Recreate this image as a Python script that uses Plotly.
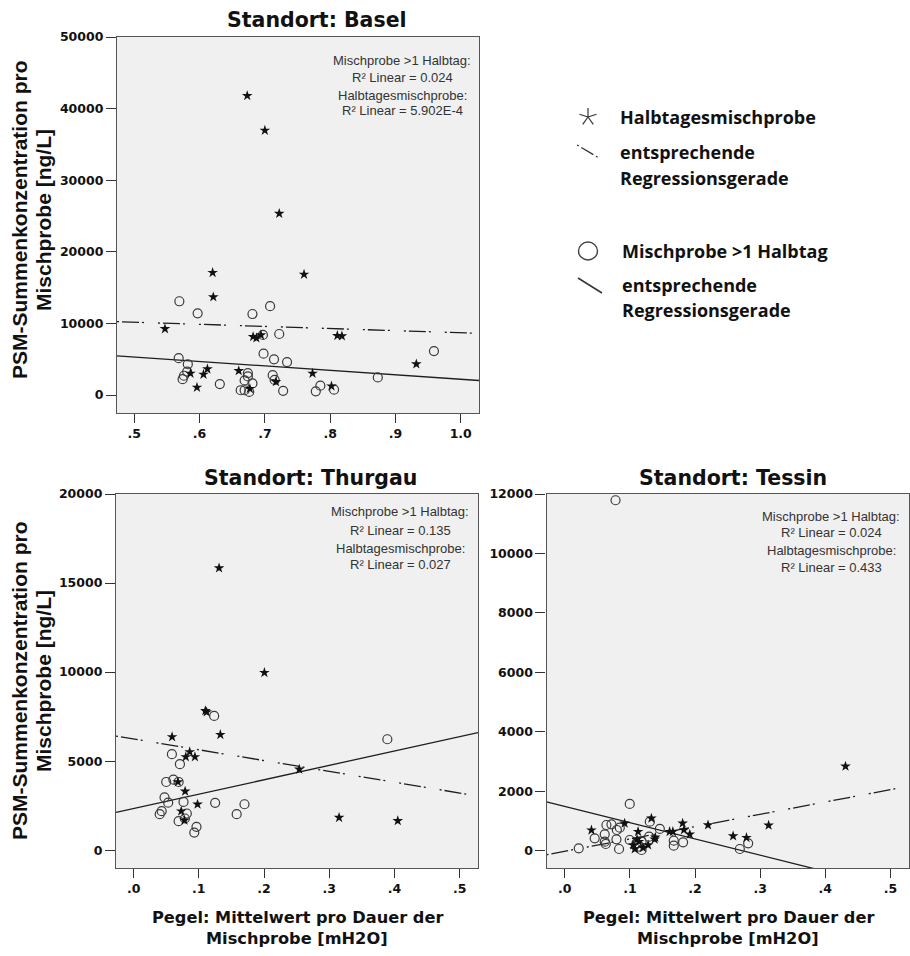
import math
import plotly.graph_objects as go

W, H = 910, 956

# ---------------- data ----------------
# Standort Basel
basel_halbtag_x = [0.673, 0.700, 0.722, 0.620, 0.760, 0.621, 0.547, 0.682, 0.687, 0.694, 0.811,
                   0.818, 0.932, 0.586, 0.612, 0.606, 0.596, 0.660, 0.773, 0.802, 0.717, 0.677]
basel_halbtag_y = [41800, 36950, 25350, 17100, 16850, 13700, 9250, 8150, 7970, 8390, 8290,
                   8250, 4330, 3030, 3630, 2890, 1070, 3400, 3030, 1250, 1860, 900]
basel_misch_x = [0.569, 0.597, 0.681, 0.708, 0.697, 0.722, 0.698, 0.714, 0.734, 0.568, 0.582,
                 0.581, 0.576, 0.574, 0.631, 0.674, 0.674, 0.669, 0.681, 0.663, 0.669, 0.676,
                 0.712, 0.715, 0.728, 0.785, 0.778, 0.806, 0.873, 0.959]
basel_misch_y = [13100, 11420, 11320, 12420, 8400, 8530, 5780, 4990, 4610, 5150, 4310,
                 3290, 2700, 2220, 1540, 3080, 2600, 2050, 1630, 680, 680, 440,
                 2780, 2120, 600, 1320, 530, 750, 2470, 6150]

# Standort Thurgau
thurgau_halbtag_x = [0.131, 0.2005, 0.110, 0.112, 0.133, 0.059, 0.086, 0.080, 0.094, 0.068,
                     0.079, 0.098, 0.073, 0.078, 0.254, 0.315, 0.405]
thurgau_halbtag_y = [15840, 9970, 7830, 7760, 6490, 6360, 5520, 5240, 5240, 3830,
                     3310, 2580, 2190, 1680, 4540, 1830, 1650]
thurgau_misch_x = [0.1235, 0.389, 0.0587, 0.071, 0.050, 0.061, 0.069, 0.0474, 0.053, 0.0765,
                   0.125, 0.170, 0.043, 0.040, 0.0816, 0.158, 0.069, 0.0786, 0.0964, 0.093]
thurgau_misch_y = [7540, 6230, 5390, 4830, 3830, 3960, 3830, 2960, 2670, 2710,
                   2660, 2580, 2190, 2020, 2060, 2020, 1630, 1780, 1310, 990]

# Standort Tessin
tessin_halbtag_x = [0.041, 0.092, 0.133, 0.1126, 0.105, 0.1075, 0.114, 0.128, 0.138, 0.111,
                    0.161, 0.166, 0.181, 0.183, 0.192, 0.220, 0.2585, 0.279, 0.313, 0.431,
                    0.139, 0.120]
tessin_halbtag_y = [690, 922, 1090, 640, 192, 57, 303, 192, 384, 384,
                    640, 640, 922, 697, 552, 865, 495, 438, 853, 2840,
                    449, 100]
tessin_misch_x = [0.078, 0.0998, 0.064, 0.0717, 0.080, 0.0845, 0.0614, 0.046, 0.0614, 0.063,
                  0.0794, 0.0834, 0.0215, 0.0998, 0.110, 0.118, 0.115, 0.118, 0.1306, 0.1295,
                  0.146, 0.1674, 0.1674, 0.1817, 0.2688, 0.2816]
tessin_misch_y = [11790, 1572, 865, 888, 697, 775, 552, 417, 303, 226,
                  384, 57, 81, 360, 249, 303, 135, 24, 976, 471,
                  731, 337, 168, 283, 57, 249]

# fitted regression lines: [intercept, slope]
basel_reg_halbtag = [11645, -2940]
basel_reg_misch = [8440, -6230]
thurgau_reg_halbtag = [6246, -6072]
thurgau_reg_misch = [2336, 8090]
tessin_reg_halbtag = [-20, 4147]
tessin_reg_misch = [1487, -5462]

# R² values printed in each panel: [Mischprobe >1 Halbtag, Halbtagesmischprobe]
basel_r2 = ["0.024", "5.902E-4"]
thurgau_r2 = ["0.135", "0.027"]
tessin_r2 = ["0.024", "0.433"]

# axis ticks
basel_xticks = [0.5, 0.6, 0.7, 0.8, 0.9, 1.0]
basel_xlabels = [".5", ".6", ".7", ".8", ".9", "1.0"]
low_xticks = [0.0, 0.1, 0.2, 0.3, 0.4, 0.5]
low_xlabels = [".0", ".1", ".2", ".3", ".4", ".5"]
basel_yticks = [0, 10000, 20000, 30000, 40000, 50000]
thurgau_yticks = [0, 5000, 10000, 15000, 20000]
tessin_yticks = [0, 2000, 4000, 6000, 8000, 10000, 12000]


# ---------------- helpers ----------------
def px(x):
    return x / W


def py(y):
    return 1 - y / H


INK = "#1e1e1e"
DASHDOT = "2px,3px,17px,3px,2px,14px"
TICKFONT = dict(family="DejaVu Sans", size=12.5, color="#111", weight="bold")

fig = go.Figure()

panels = [
    dict(xa="x", ya="y", hx=basel_halbtag_x, hy=basel_halbtag_y, mx=basel_misch_x, my=basel_misch_y,
         rh=basel_reg_halbtag, rm=basel_reg_misch, xr=[0.4735, 1.028]),
    dict(xa="x2", ya="y2", hx=thurgau_halbtag_x, hy=thurgau_halbtag_y, mx=thurgau_misch_x, my=thurgau_misch_y,
         rh=thurgau_reg_halbtag, rm=thurgau_reg_misch, xr=[-0.027, 0.528]),
    dict(xa="x3", ya="y3", hx=tessin_halbtag_x, hy=tessin_halbtag_y, mx=tessin_misch_x, my=tessin_misch_y,
         rh=tessin_reg_halbtag, rm=tessin_reg_misch, xr=[-0.028, 0.529]),
]

for p in panels:
    x0, x1 = p["xr"]
    fig.add_trace(go.Scatter(
        x=[x0, x1], y=[p["rh"][0] + p["rh"][1] * x0, p["rh"][0] + p["rh"][1] * x1],
        mode="lines", line=dict(color=INK, width=1.3, dash=DASHDOT),
        xaxis=p["xa"], yaxis=p["ya"], showlegend=False, hoverinfo="skip"))
    fig.add_trace(go.Scatter(
        x=[x0, x1], y=[p["rm"][0] + p["rm"][1] * x0, p["rm"][0] + p["rm"][1] * x1],
        mode="lines", line=dict(color=INK, width=1.3),
        xaxis=p["xa"], yaxis=p["ya"], showlegend=False, hoverinfo="skip"))
    fig.add_trace(go.Scatter(
        x=p["mx"], y=p["my"], mode="markers",
        marker=dict(symbol="circle-open", size=9, color="#3a3a3a", line=dict(width=1.2)),
        xaxis=p["xa"], yaxis=p["ya"], showlegend=False))
    fig.add_trace(go.Scatter(
        x=p["hx"], y=p["hy"], mode="markers",
        marker=dict(symbol="star", size=8, color="#111"),
        xaxis=p["xa"], yaxis=p["ya"], showlegend=False))


def xaxis_cfg(domain, rng, vals, text, anchor):
    return dict(domain=domain, range=rng, tickvals=vals, ticktext=text, anchor=anchor,
                ticks="outside", ticklen=9, tickwidth=1.3, tickcolor="#333",
                showline=True, linecolor="#555", linewidth=1.2, mirror=True, automargin=False,
                showgrid=False, zeroline=False, tickfont=TICKFONT, fixedrange=True)


def yaxis_cfg(domain, rng, vals, anchor):
    return dict(domain=domain, range=rng, tickvals=vals, ticktext=[str(v) for v in vals],
                anchor=anchor, ticks="outside", ticklen=10, tickwidth=1.3, tickcolor="#333",
                showline=True, linecolor="#555", linewidth=1.2, mirror=True, automargin=False,
                showgrid=False, zeroline=False, tickfont=TICKFONT, fixedrange=True)


top_dom = [py(413), py(37)]
low_dom = [py(868), py(494)]

fig.update_layout(
    width=W, height=H,
    margin=dict(l=0, r=0, t=0, b=0, pad=0, autoexpand=False),
    paper_bgcolor="white", plot_bgcolor="#f0f0f0",
    showlegend=False,
    xaxis=xaxis_cfg([px(117), px(479)], [0.4735, 1.028], basel_xticks, basel_xlabels, "y"),
    yaxis=yaxis_cfg(top_dom, [-2500, 50000], basel_yticks, "x"),
    xaxis2=xaxis_cfg([px(116), px(478)], [-0.027, 0.528], low_xticks, low_xlabels, "y2"),
    yaxis2=yaxis_cfg(low_dom, [-1000, 20000], thurgau_yticks, "x2"),
    xaxis3=xaxis_cfg([px(546.5), px(909.3)], [-0.028, 0.529], low_xticks, low_xlabels, "y3"),
    yaxis3=yaxis_cfg(low_dom, [-582, 12000], tessin_yticks, "x3"),
)

ann = []


def text(s, x, y, size, family="DejaVu Sans", weight="normal", color="#111",
         xanchor="center", angle=0):
    ann.append(dict(text=s, x=px(x), y=py(y), xref="paper", yref="paper", showarrow=False,
                    xanchor=xanchor, yanchor="middle", textangle=angle,
                    font=dict(family=family, size=size, color=color, weight=weight)))


# panel titles
text("Standort: Basel", 317, 20, 20.5, weight="bold")
text("Standort: Thurgau", 310, 478, 20.5, weight="bold")
text("Standort: Tessin", 733, 478, 20.5, weight="bold")

# axis titles
for cy in (220, 681):
    text("PSM-Summenkonzentration pro", 19, cy, 21, family="Liberation Sans", weight="bold", angle=-90)
    text("Mischprobe [ng/L]", 43, cy, 21, family="Liberation Sans", weight="bold", angle=-90)
for cx in (297, 728):
    text("Pegel: Mittelwert pro Dauer der", cx, 917, 16.2, weight="bold")
    text("Mischprobe [mH2O]", cx, 938, 16.2, weight="bold")

# R² boxes
for cx, ys, r2 in ((402, (60, 77, 95, 111), basel_r2),
                   (400, (512, 530, 548, 564), thurgau_r2),
                   (831, (516, 532, 550, 567), tessin_r2)):
    lines = ["Mischprobe >1 Halbtag:", "R² Linear = " + r2[0],
             "Halbtagesmischprobe:", "R² Linear = " + r2[1]]
    for s, y in zip(lines, ys):
        text(s, cx, y, 13, family="Liberation Sans", color="#333")

# legend labels
LEG = dict(family="Open Sans", weight="bold", xanchor="left")
text("Halbtagesmischprobe", 618, 117, 18, **LEG)
text("entsprechende", 618, 152, 18, **LEG)
text("Regressionsgerade", 618, 178, 18, **LEG)
text("Mischprobe >1 Halbtag", 620, 251, 18, **LEG)
text("entsprechende", 620, 285, 18, **LEG)
text("Regressionsgerade", 620, 310, 18, **LEG)

fig.update_layout(annotations=ann)

# legend glyphs
shapes = []
cx, cy, r = 588, 117, 9
arms = []
for k in range(5):
    a = math.radians(90 + 72 * k)
    arms.append(f"M{px(cx)},{py(cy)} L{px(cx + r * math.cos(a))},{py(cy - r * math.sin(a))}")
shapes.append(dict(type="path", path=" ".join(arms), xref="paper", yref="paper",
                   line=dict(color="#333", width=1.2)))
shapes.append(dict(type="line", xref="paper", yref="paper", x0=px(577), y0=py(145), x1=px(599), y1=py(158),
                   line=dict(color="#333", width=1.3, dash="2px,3px,14px,3px,2px")))
shapes.append(dict(type="circle", xref="paper", yref="paper", x0=px(578.5), y0=py(260), x1=px(597.5), y1=py(242),
                   line=dict(color="#444", width=1.4)))
shapes.append(dict(type="line", xref="paper", yref="paper", x0=px(578), y0=py(278), x1=px(602), y1=py(293),
                   line=dict(color="#333", width=1.5)))
fig.update_layout(shapes=shapes)

fig.write_html("out.html")
